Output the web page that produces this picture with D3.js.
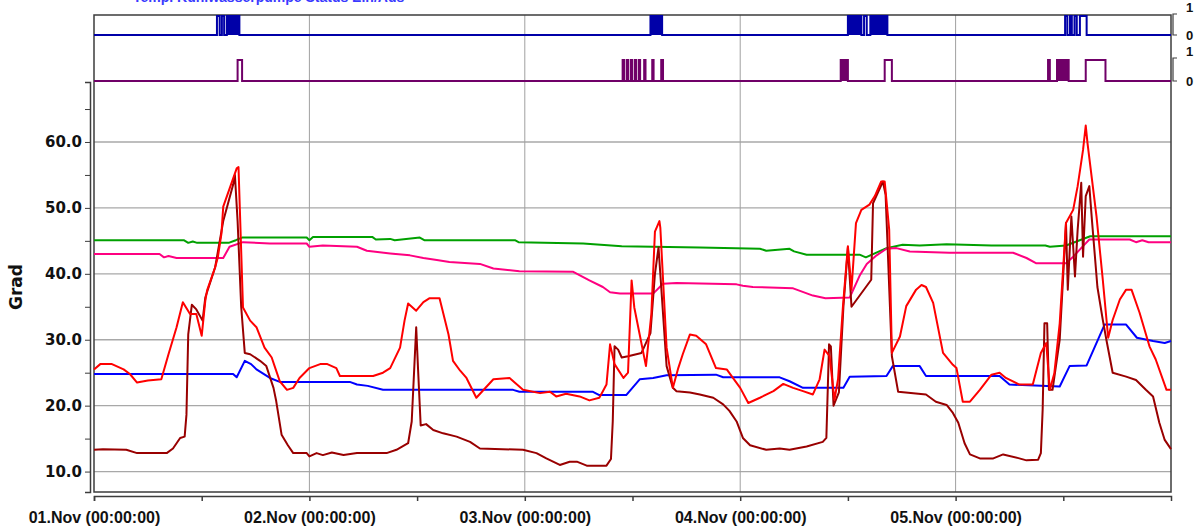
<!DOCTYPE html>
<html>
<head>
<meta charset="utf-8">
<script src="https://cdn.jsdelivr.net/npm/d3@7"></script>
<style>
  body { margin: 0; background: #fff; }
  text { font-family: "Liberation Sans", Arial, sans-serif; font-weight: bold; }
</style>
</head>
<body>
<div id="chart"></div>
<script>
// size of the picture
const width = 1201;
const height = 527;

// start of the time axis, data is given as [hours since start, value]
const startDate = new Date(2008, 10, 1);
const dayCount = 5;

const yTicks = [10, 15, 20, 25, 30, 35, 40, 45, 50, 55, 60, 65];
const title = "Temp. Kühlwasserpumpe Status Ein/Aus";

// analog series
const greenPoints = [[0,45.1],[10,45.1],[10.5,44.7],[11,44.9],[11.5,44.7],[15,44.7],[15.8,45.1],[16.5,45.5],[23.7,45.5],[24,45.1],[24.4,45.6],[31,45.6],[31.4,45.2],[33,45.3],[33.5,45.1],[36.3,45.5],[36.8,45.1],[46.9,45.1],[47.3,44.8],[54.5,44.6],[58.8,44.2],[67.5,44.0],[74.2,43.8],[74.9,43.5],[77.5,43.8],[78,43.4],[79.4,42.9],[85.3,42.9],[86,42.5],[88.3,43.9],[90.1,44.4],[92,44.3],[95,44.5],[100,44.3],[106,44.3],[106.5,44.1],[108.3,44.3],[111,45.7],[120,45.7]];

const pinkPoints = [[0,43.0],[7.3,43.0],[7.8,42.5],[8.3,42.7],[9.2,42.4],[14.4,42.4],[15.1,44.1],[16.6,44.8],[19.6,44.6],[23.7,44.6],[24,44.1],[25.5,44.3],[29.3,44.1],[30.4,43.5],[33,43.1],[35.2,42.8],[36.7,42.4],[38.2,42.1],[39.6,41.8],[43,41.5],[44.5,40.8],[47.4,40.4],[53.4,40.3],[55.2,39.0],[56.7,38.0],[57.5,37.2],[58.6,37.0],[62.3,37.0],[63.4,38.5],[64.9,38.6],[71.6,38.4],[72.3,38.2],[73.4,38.0],[77.9,37.8],[80.1,36.7],[81.5,36.3],[84.2,36.4],[85.3,39.7],[86.1,41.5],[87.2,42.8],[88.3,43.8],[89.4,43.9],[90.9,43.4],[95.3,43.2],[102.4,43.2],[103.9,42.4],[105,41.6],[108.3,41.6],[109.1,42.6],[110.2,44.2],[110.9,45.2],[115.4,45.2],[116.1,44.8],[116.8,45.1],[117.5,44.8],[120,44.8]];

const bluePoints = [[0,24.8],[15.5,24.8],[15.9,24.3],[16.8,26.8],[17.5,26.3],[18.1,25.5],[19.6,24.2],[20.7,23.6],[28.5,23.6],[29.3,23.2],[30.5,23.0],[32.2,22.4],[46.7,22.4],[47.4,22.1],[55.6,22.1],[56.3,21.6],[59.3,21.6],[60.8,24.0],[62.3,24.2],[63.8,24.6],[69.3,24.7],[70.1,24.3],[76.4,24.3],[77.5,23.7],[79.0,22.7],[83.5,22.7],[84.2,24.4],[88.3,24.5],[89.0,26.0],[92.0,26.0],[92.7,24.5],[100.9,24.5],[102.0,23.2],[107.6,22.9],[108.7,26.0],[110.6,26.1],[112.6,32.3],[115.0,32.3],[116.2,30.3],[118.0,29.8],[119.3,29.5],[120,29.8]];

const redPoints = [[0,25.5],[0.7,26.3],[2.0,26.3],[3.3,25.5],[4.0,24.8],[4.8,23.5],[6.0,23.8],[7.5,24.0],[8.3,27.8],[9.2,31.9],[9.9,35.7],[10.7,33.9],[11.4,33.9],[12.0,30.6],[12.4,35.9],[12.6,37.5],[13.5,41.0],[13.8,42.5],[14.2,46.1],[14.4,50.2],[15.9,56.0],[16.1,56.2],[16.6,34.9],[17.4,32.9],[18.1,31.9],[19.0,28.8],[19.8,27.3],[20.2,25.7],[20.7,23.7],[21.5,22.4],[22.2,22.7],[22.9,24.2],[24.0,25.7],[25.2,26.3],[26.0,26.3],[27.0,25.7],[27.4,24.5],[31.1,24.5],[32.2,25.0],[33.0,25.7],[34.1,28.8],[34.6,32.9],[35.0,35.5],[35.9,34.4],[36.7,35.7],[37.4,36.3],[38.5,36.3],[39.5,30.8],[40.0,26.8],[40.8,25.3],[41.5,24.2],[42.6,21.2],[44.5,24.0],[46.3,24.2],[47.8,22.4],[49.7,21.9],[50.8,22.1],[51.5,21.4],[52.6,21.8],[54.1,21.4],[55.2,20.8],[56.3,21.2],[56.7,22.2],[57.1,23.2],[57.5,29.3],[58.0,26.3],[59.0,24.2],[59.5,25.0],[59.9,39.0],[60.2,34.9],[60.8,30.8],[61.5,26.0],[62.1,33.9],[62.5,46.4],[63.0,48.0],[63.1,47.0],[63.8,28.8],[64.5,22.7],[65.1,25.7],[65.6,27.8],[66.4,30.8],[67.1,30.6],[68.2,29.3],[69.3,25.7],[70.5,25.5],[72.0,22.7],[72.9,20.4],[74.2,21.2],[75.7,22.2],[76.8,23.3],[77.9,22.7],[79.0,22.2],[80.1,21.7],[80.85,24.0],[81.4,28.5],[81.96,27.5],[82.5,20.9],[82.9,24.0],[83.45,35.1],[84.0,44.2],[84.4,37.6],[84.9,47.7],[85.5,49.7],[86.4,50.5],[87.0,51.8],[87.7,54.0],[88.1,54.0],[88.6,46.7],[88.9,28.0],[89.8,30.5],[90.5,35.1],[91.6,37.6],[92.2,38.3],[92.7,38.0],[93.5,35.6],[94.6,28.0],[95.7,26.2],[96.1,25.7],[96.8,20.6],[97.6,20.6],[98.7,22.4],[100.0,24.7],[100.9,25.0],[101.6,24.2],[103.1,23.2],[104.6,23.2],[105.5,28.0],[106.1,29.5],[106.5,22.4],[107.0,24.9],[107.6,32.5],[108.3,47.7],[109.1,49.7],[109.6,53.3],[110.2,58.8],[110.5,62.5],[110.7,59.8],[111.7,48.7],[112.4,39.1],[113.0,30.3],[113.5,33.0],[114.3,36.1],[115.0,37.6],[115.6,37.6],[116.5,34.1],[117.6,29.0],[118.3,27.0],[119.5,22.4],[120,22.4]];

const darkRedPoints = [[0,13.3],[1.0,13.4],[3.6,13.3],[4.8,12.8],[8.1,12.8],[8.8,13.5],[9.6,15.1],[10.1,15.3],[10.3,18.6],[10.5,30.8],[10.9,35.3],[11.4,34.6],[12.1,32.9],[12.4,36.4],[13.5,41.0],[14.4,48.0],[15.5,53.5],[15.7,55.0],[16.0,48.0],[16.4,35.0],[16.8,28.0],[17.4,27.8],[18.5,26.8],[19.2,26.0],[20.0,22.7],[20.3,20.7],[20.9,15.6],[21.6,14.0],[22.2,12.8],[23.7,12.8],[24.0,12.3],[24.8,12.8],[25.5,12.5],[26.5,12.9],[27.8,12.5],[29.3,12.8],[32.6,12.8],[33.7,13.3],[35.0,14.3],[35.4,17.6],[35.9,31.9],[36.1,25.7],[36.4,17.0],[37.0,17.2],[37.8,16.3],[38.9,15.8],[40.4,15.3],[41.9,14.5],[43.0,13.5],[47.8,13.3],[49.3,12.8],[50.4,12.0],[51.9,11.0],[53.0,11.5],[53.8,11.5],[54.9,10.9],[57.1,10.9],[57.6,11.9],[57.8,17.6],[58.0,29.0],[58.4,28.5],[58.8,27.3],[59.5,27.5],[61.0,28.0],[62.0,31.0],[62.5,40.0],[62.9,44.0],[63.2,38.0],[63.8,26.0],[64.5,22.7],[64.9,22.2],[66.4,22.0],[67.5,21.7],[69.0,21.2],[70.1,20.2],[70.8,19.2],[71.6,17.6],[72.3,15.1],[73.1,14.0],[74.9,13.3],[76.4,13.5],[77.5,13.3],[79.4,13.8],[81.2,14.5],[81.6,15.1],[81.9,29.3],[82.1,29.0],[82.4,20.0],[83.0,22.0],[83.5,35.0],[84.0,44.0],[84.4,35.0],[86.6,39.1],[86.8,50.7],[87.9,54.0],[88.2,52.0],[88.9,27.5],[89.6,22.1],[92.7,21.7],[93.8,20.6],[95.0,20.1],[95.7,18.9],[96.3,17.4],[97.0,14.3],[97.6,12.6],[98.7,12.0],[100.2,12.0],[101.3,12.6],[103.1,12.0],[103.9,11.7],[105.2,11.8],[105.5,12.8],[105.7,19.4],[105.9,32.5],[106.2,32.5],[106.4,22.4],[106.8,22.4],[107.6,30.0],[108.0,40.0],[108.3,47.7],[108.5,37.6],[108.9,48.7],[109.3,39.6],[109.6,46.7],[110.0,53.8],[110.2,42.6],[110.5,51.8],[110.9,53.3],[111.2,48.0],[111.8,38.0],[112.4,33.0],[112.8,30.0],[113.5,25.0],[115.0,24.4],[116.1,23.9],[117.2,22.4],[118.0,21.4],[118.7,17.4],[119.3,14.8],[120,13.4]];

// digital series: [on hour, off hour, dense (1 = rapid switching)]
const blueRuns = [[13.7,14.0,0],[14.25,14.5,0],[14.8,16.2,1],[62.0,63.3,1],[84.0,85.5,1],[85.8,86.1,0],[86.5,88.4,1],[108.2,108.45,0],[108.75,108.95,0],[109.25,109.5,0],[109.85,110.6,0]];
const purpleRuns = [[16.0,16.5,0],[58.9,59.05,0],[59.35,59.5,0],[59.8,59.95,0],[60.25,60.4,0],[60.7,60.85,0],[61.3,61.45,0],[62.2,62.35,0],[63.2,63.4,0],[83.2,84.0,1],[88.1,88.9,0],[106.3,106.5,0],[107.3,108.6,1],[110.5,112.7,0]];

const toDate = (h) => new Date(+startDate + h * 3600e3);

const svg = d3
  .select("#chart")
  .append("svg")
  .attr("width", width)
  .attr("height", height)
  .style("display", "block");

// scales
const endDate = d3.timeDay.offset(startDate, dayCount);
const x = d3.scaleTime().domain([startDate, endDate]).range([94, 1171]);

const y = d3.scaleLinear().domain([6.9, 69.1]).range([492, 82]);
const yBlue = d3.scaleLinear().domain([0, 1]).range([35, 16]);
const yPurple = d3.scaleLinear().domain([0, 1]).range([81, 60]);

// cut off title at the very top
svg
  .append("text")
  .attr("x", 133)
  .attr("y", 2)
  .attr("fill", "#3a3aff")
  .style("font-size", "14px")
  .text(title);

// grid
svg
  .append("g")
  .selectAll("line")
  .data(yTicks.filter((d) => d % 10 === 0))
  .join("line")
  .attr("x1", x.range()[0])
  .attr("x2", x.range()[1])
  .attr("y1", (d) => y(d))
  .attr("y2", (d) => y(d))
  .attr("stroke", "#a8a8a8")
  .attr("stroke-width", 1.3);

svg
  .append("g")
  .selectAll("line")
  .data(d3.timeDay.range(d3.timeDay.offset(startDate, 1), endDate))
  .join("line")
  .attr("x1", (d) => x(d))
  .attr("x2", (d) => x(d))
  .attr("y1", 15)
  .attr("y2", 492)
  .attr("stroke", "#a0a0a0")
  .attr("stroke-width", 1);

// frame
svg
  .append("rect")
  .attr("x", 94)
  .attr("y", 15)
  .attr("width", 1171 - 94)
  .attr("height", 492 - 15)
  .attr("fill", "none")
  .attr("stroke", "#3c3c3c")
  .attr("stroke-width", 1.5);

// y axis
const yAxis = svg
  .append("g")
  .attr("transform", "translate(90,0)")
  .call(
    d3
      .axisLeft(y)
      .tickValues(yTicks)
      .tickSizeOuter(0)
      .tickSize(5)
      .tickPadding(3)
      .tickFormat((d) => (d % 10 === 0 ? d3.format(".1f")(d) : ""))
  );
yAxis.select(".domain").attr("stroke", "#3c3c3c").attr("stroke-width", 1.5);
yAxis.selectAll(".tick line").attr("stroke", "#3c3c3c");
yAxis
  .selectAll("text")
  .attr("fill", "#111")
  .style("font-size", "15px")
  .style("font-family", "'DejaVu Sans', sans-serif")
  .style("font-weight", "bold");

svg
  .append("text")
  .attr("transform", "translate(22,287) rotate(-90)")
  .attr("text-anchor", "middle")
  .attr("fill", "#111")
  .style("font-family", "'DejaVu Sans', sans-serif")
  .style("font-size", "17px")
  .text("Grad");

// x axis, ticks every 12 hours, labels at midnight, no tick at the end
const xTicks = d3.timeHour.every(12).range(startDate, endDate);
const xAxis = svg
  .append("g")
  .attr("transform", "translate(0,496)")
  .call(
    d3
      .axisBottom(x)
      .tickValues(xTicks)
      .tickSizeOuter(0)
      .tickSize(5)
      .tickPadding(11)
      .tickFormat((d) => (d.getHours() === 0 ? d3.timeFormat("%d.%b (%H:%M:%S)")(d) : ""))
  );
xAxis.select(".domain").attr("stroke", "#3c3c3c").attr("stroke-width", 1.5);
xAxis.selectAll(".tick line").attr("stroke", "#3c3c3c").attr("stroke-width", 1.5);
xAxis
  .selectAll("text")
  .attr("fill", "#111")
  .style("font-size", "16px")
  .style("font-family", "'Liberation Sans', Arial, sans-serif")
  .style("font-weight", "bold");

// analog lines
const line = d3
  .line()
  .x((d) => x(toDate(d[0])))
  .y((d) => y(d[1]));

const series = [
  { points: greenPoints, color: "#00a000" },
  { points: pinkPoints, color: "#ff0080" },
  { points: bluePoints, color: "#0000ff" },
  { points: darkRedPoints, color: "#990000" },
  { points: redPoints, color: "#ff0000" },
];

series.forEach((s) => {
  svg
    .append("path")
    .datum(s.points)
    .attr("d", line)
    .attr("fill", "none")
    .attr("stroke", s.color)
    .attr("stroke-width", 2)
    .attr("stroke-linejoin", "round");
});

// digital strips
function drawDigital(runs, yScale, color) {
  const steps = [[0, 0]];
  runs.forEach((r) => {
    steps.push([r[0], 0], [r[0], 1], [r[1], 1], [r[1], 0]);
  });
  steps.push([dayCount * 24, 0]);

  svg
    .append("g")
    .selectAll("rect")
    .data(runs.filter((r) => r[2] === 1))
    .join("rect")
    .attr("x", (r) => x(toDate(r[0])))
    .attr("width", (r) => x(toDate(r[1])) - x(toDate(r[0])))
    .attr("y", yScale(1))
    .attr("height", yScale(0) - yScale(1))
    .attr("fill", color);

  svg
    .append("path")
    .datum(steps)
    .attr(
      "d",
      d3
        .line()
        .x((d) => x(toDate(d[0])))
        .y((d) => yScale(d[1]))
    )
    .attr("fill", "none")
    .attr("stroke", color)
    .attr("stroke-width", 2);

  // small 0/1 scale on the right
  const bx = 1173;
  svg
    .append("path")
    .attr("d", `M${bx + 4},${yScale(1) - 2}H${bx}V${yScale(0)}H${bx + 4}`)
    .attr("fill", "none")
    .attr("stroke", "#3c3c3c")
    .attr("stroke-width", 1.2);
  svg
    .append("text")
    .attr("x", 1186)
    .attr("y", yScale(1) - 4)
    .attr("fill", "#111")
    .style("font-size", "13px")
    .text("1");
  svg
    .append("text")
    .attr("x", 1186)
    .attr("y", yScale(0) + 5)
    .attr("fill", "#111")
    .style("font-size", "13px")
    .text("0");
}

drawDigital(blueRuns, yBlue, "#0000a8");
drawDigital(purpleRuns, yPurple, "#700068");
</script>
</body>
</html>
